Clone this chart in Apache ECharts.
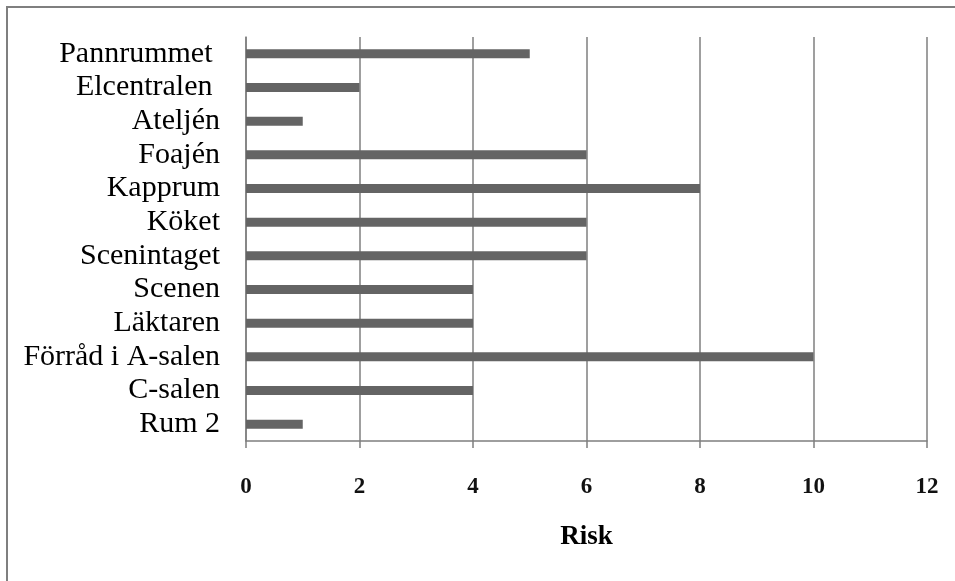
<!DOCTYPE html>
<html>
<head>
<meta charset="utf-8">
<script src="https://cdn.jsdelivr.net/npm/echarts@6/dist/echarts.min.js"></script>
<style>html,body{margin:0;padding:0;background:#fff}#c{width:955px;height:581px}</style>
</head>
<body>
<div id="c"></div>
<script>
const categories = ['Rum 2','C-salen','Förråd i A-salen','Läktaren','Scenen','Scenintaget','Köket','Kapprum','Foajén','Ateljén','Elcentralen ','Pannrummet '];
const riskValues = [1,4,10,4,4,6,6,8,6,1,2,5];
const xTicks = [0,2,4,6,8,10,12];

const chart = echarts.init(document.getElementById('c'), null, {renderer:'canvas'});
chart.setOption({
  animation:false,
  backgroundColor:'#fff',
  graphic:[{type:'rect',shape:{x:7,y:7,width:1000,height:700},style:{fill:'none',stroke:'#7f7f7f',lineWidth:2},silent:true}],
  grid:{left:246,right:28,top:37,bottom:140,containLabel:false},
  xAxis:{
    type:'value',min:0,max:12,interval:2,
    name:'Risk',nameLocation:'middle',nameGap:83,
    nameTextStyle:{fontFamily:'Liberation Serif',fontSize:27,fontWeight:'bold',color:'#000'},
    axisLine:{show:true,lineStyle:{color:'#7f7f7f',width:1.5}},
    axisTick:{show:true,length:7,lineStyle:{color:'#7f7f7f',width:1.5}},
    axisLabel:{margin:35,fontFamily:'Liberation Serif',fontSize:23,fontWeight:'bold',color:'#111',
      formatter:v=>xTicks.includes(v)?String(v):''},
    splitLine:{show:true,lineStyle:{color:'#7f7f7f',width:1.5}}
  },
  yAxis:{
    type:'category',data:categories,
    axisLine:{show:true,lineStyle:{color:'#7f7f7f',width:1.5}},
    axisTick:{show:false},
    axisLabel:{interval:0,margin:26,fontFamily:'Liberation Serif',fontSize:30,color:'#000'}
  },
  series:[{type:'bar',data:riskValues,barWidth:9,itemStyle:{color:'#646464'}}]
});
</script>
</body>
</html>
